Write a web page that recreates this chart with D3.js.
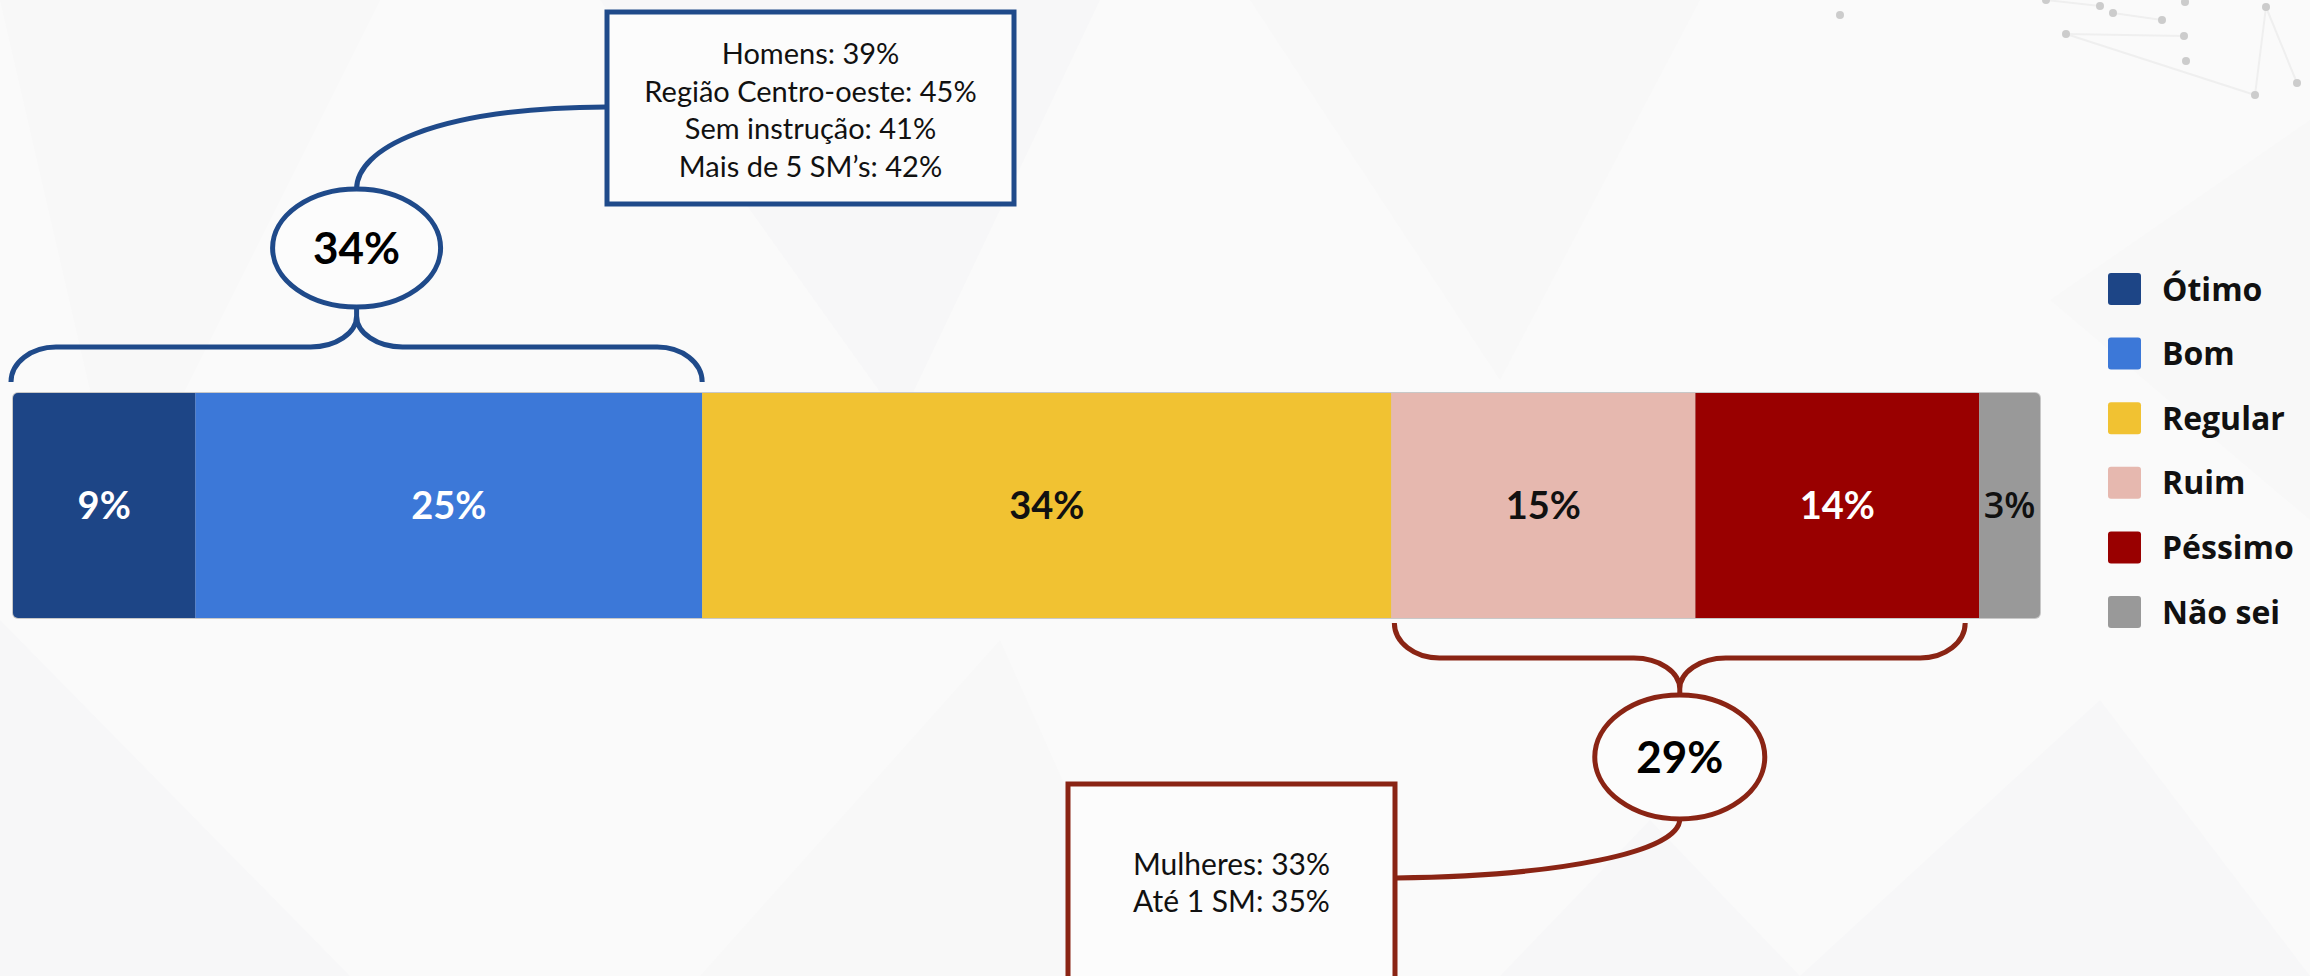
<!DOCTYPE html>
<html>
<head>
<meta charset="utf-8">
<script src="https://cdn.jsdelivr.net/npm/d3@7"></script>
<style>
  html, body { margin: 0; padding: 0; background: #fafafa; }
  svg { display: block; }
</style>
</head>
<body>
<svg id="chart"></svg>
<script>
const W = 2310, H = 976;

// data
const categories = ['Ótimo', 'Bom', 'Regular', 'Ruim', 'Péssimo', 'Não sei'];
const values = [9, 25, 34, 15, 14, 3];
const colors = ['#1d4586', '#3c78d8', '#f1c232', '#e6b8af', '#990000', '#999999'];
const labelColors = ['#ffffff', '#ffffff', '#111111', '#111111', '#ffffff', '#111111'];

const positiveGroup = ['Ótimo', 'Bom'];
const positiveTotal = '34%';
const positiveNotes = ['Homens: 39%', 'Região Centro-oeste: 45%', 'Sem instrução: 41%', 'Mais de 5 SM’s: 42%'];

const negativeGroup = ['Ruim', 'Péssimo'];
const negativeTotal = '29%';
const negativeNotes = ['Mulheres: 33%', 'Até 1 SM: 35%'];

const BLUE = '#1f4a8a';
const RED = '#8a2414';
const BAR_TOP = 393, BAR_H = 225;

const svg = d3.select('#chart').attr('width', W).attr('height', H);

// faint background triangles + network dots (decoration)
const bg = svg.append('g');
bg.append('rect').attr('width', W).attr('height', H).attr('fill', '#fafafa');
const tris = [
  [[0, 0], [380, 0], [120, 520]], [[600, 0], [1100, 0], [900, 420]],
  [[1250, 0], [1700, 0], [1500, 380]], [[0, 620], [350, 976], [0, 976]],
  [[700, 976], [1000, 640], [1150, 976]], [[1800, 976], [2100, 700], [2310, 976]],
  [[2050, 300], [2310, 120], [2310, 520]], [[1500, 976], [1650, 820], [1800, 976]]
];
bg.selectAll('polygon').data(tris).join('polygon')
  .attr('points', d => d.map(p => p.join(',')).join(' '))
  .attr('fill', (d, i) => i % 2 ? '#f7f7f8' : '#f8f8f8');
const dots = [[1840, 15], [2046, 0], [2100, 6], [2113, 13], [2162, 20], [2184, 36], [2066, 34], [2186, 61], [2255, 95], [2266, 7], [2297, 83], [2185, 2]];
const dotLinks = [[6, 5], [6, 8], [1, 2], [3, 4], [9, 8], [9, 10]];
bg.selectAll('line.net').data(dotLinks).join('line').attr('class', 'net')
  .attr('x1', d => dots[d[0]][0]).attr('y1', d => dots[d[0]][1])
  .attr('x2', d => dots[d[1]][0]).attr('y2', d => dots[d[1]][1])
  .attr('stroke', '#efefef').attr('stroke-width', 2);
bg.selectAll('circle.net').data(dots).join('circle').attr('class', 'net')
  .attr('cx', d => d[0]).attr('cy', d => d[1]).attr('r', 4).attr('fill', '#cccccc');

// scale
const x = d3.scaleLinear().domain([0, 100]).range([13, 2040]);
const data = categories.map((c, i) => ({
  cat: c, value: values[i],
  start: d3.sum(values.slice(0, i)), color: colors[i], labelColor: labelColors[i]
}));

// bar
svg.append('clipPath').attr('id', 'barclip')
  .append('rect').attr('x', x(0)).attr('y', BAR_TOP)
  .attr('width', x(100) - x(0)).attr('height', BAR_H).attr('rx', 5);

svg.append('rect').attr('x', x(0) - 1).attr('y', BAR_TOP - 1)
  .attr('width', x(100) - x(0) + 2).attr('height', BAR_H + 2).attr('rx', 6)
  .attr('fill', '#c8c8c8');

const bars = svg.append('g').attr('clip-path', 'url(#barclip)');
bars.selectAll('rect').data(data).join('rect')
  .attr('x', d => x(d.start))
  .attr('y', BAR_TOP)
  .attr('width', d => x(d.start + d.value) - x(d.start))
  .attr('height', BAR_H)
  .attr('fill', d => d.color);

svg.append('g').selectAll('text').data(data).join('text')
  .attr('x', d => x(d.start + d.value / 2))
  .attr('y', BAR_TOP + BAR_H / 2)
  .attr('dy', '0.36em')
  .attr('text-anchor', 'middle')
  .attr('font-family', d => d.cat === 'Não sei' ? 'Open Sans' : 'Lato')
  .attr('font-weight', d => d.cat === 'Não sei' ? 600 : 700)
  .attr('font-size', d => d.cat === 'Não sei' ? 36 : 38)
  .attr('fill', d => d.labelColor)
  .text(d => d.value + '%');

// brace: local coords, ends at y=0, opening toward +y, cusp at -66
function bracePath(x0, x1) {
  const mid = (x0 + x1) / 2;
  return `M${x0},0 A45,35 0 0 1 ${x0 + 45},-35 H${mid - 46}` +
    ` A46,31 0 0 0 ${mid},-66 A46,31 0 0 0 ${mid + 46},-35` +
    ` H${x1 - 45} A45,35 0 0 1 ${x1},0`;
}

function groupRange(group) {
  const items = data.filter(d => group.includes(d.cat));
  return [d3.min(items, d => d.start), d3.max(items, d => d.start + d.value)];
}

function drawCallout(opts) {
  const g = svg.append('g');
  const [a, b] = groupRange(opts.group);
  const x0 = x(a) + opts.inset[0], x1 = x(b) - opts.inset[1];
  const mid = (x0 + x1) / 2;
  g.append('path')
    .attr('d', bracePath(x0, x1))
    .attr('transform', `translate(0,${opts.braceY}) scale(1,${opts.flip})`)
    .attr('fill', 'none').attr('stroke', opts.color).attr('stroke-width', 5);

  // stub between cusp and ellipse
  const cuspY = opts.braceY - 66 * opts.flip;
  const edgeY = opts.cy + opts.ry * opts.flip;
  g.append('line').attr('x1', mid).attr('x2', mid).attr('y1', cuspY).attr('y2', edgeY)
    .attr('stroke', opts.color).attr('stroke-width', 5);

  // connector to note box
  g.append('path').attr('d', opts.connector(mid))
    .attr('fill', 'none').attr('stroke', opts.color).attr('stroke-width', 5);

  g.append('ellipse').attr('cx', mid).attr('cy', opts.cy)
    .attr('rx', opts.rx).attr('ry', opts.ry)
    .attr('fill', '#fcfcfc').attr('stroke', opts.color).attr('stroke-width', 5);
  g.append('text').attr('x', mid).attr('y', opts.cy).attr('dy', '0.36em')
    .attr('text-anchor', 'middle').attr('font-family', 'Lato').attr('font-weight', 700)
    .attr('font-size', 44).attr('fill', '#000').text(opts.total);

  const box = opts.box;
  g.append('rect').attr('x', box.x).attr('y', box.y).attr('width', box.w).attr('height', box.h)
    .attr('fill', '#fcfcfc').attr('stroke', opts.color).attr('stroke-width', 5);
  g.append('g').selectAll('text').data(opts.notes).join('text')
    .attr('x', box.x + box.w / 2)
    .attr('y', (d, i) => box.textY + i * box.lineH)
    .attr('dy', '0.36em')
    .attr('text-anchor', 'middle').attr('font-family', 'Lato')
    .attr('font-size', box.fontSize).attr('fill', '#111')
    .text(d => d);
}

drawCallout({
  group: positiveGroup, total: positiveTotal, notes: positiveNotes, color: BLUE,
  inset: [-2, 0], braceY: 382, flip: 1, cy: 248, rx: 84, ry: 59,
  connector: m => `M${m},${248 - 59} C${m},150 430,108 606,107`,
  box: { x: 607, y: 12, w: 407, h: 192, textY: 54, lineH: 37.5, fontSize: 29 }
});

drawCallout({
  group: negativeGroup, total: negativeTotal, notes: negativeNotes, color: RED,
  inset: [3, 14], braceY: 623, flip: -1, cy: 757, rx: 85, ry: 62,
  connector: m => `M${m},${757 + 62} C${m},852 1560,876 1396,878`,
  box: { x: 1068, y: 784, w: 327, h: 220, textY: 864, lineH: 37, fontSize: 30 }
});

// legend
const legend = svg.append('g').attr('transform', 'translate(2108,273)');
const rows = legend.selectAll('g').data(data).join('g')
  .attr('transform', (d, i) => `translate(0,${i * 64.6})`);
rows.append('rect').attr('width', 33).attr('height', 32).attr('rx', 3)
  .attr('fill', d => d.color);
rows.append('text').attr('x', 54).attr('y', 16).attr('dy', '0.36em')
  .attr('font-family', 'Open Sans').attr('font-weight', 700).attr('font-size', 32)
  .attr('fill', '#111').text(d => d.cat);
</script>
</body>
</html>
